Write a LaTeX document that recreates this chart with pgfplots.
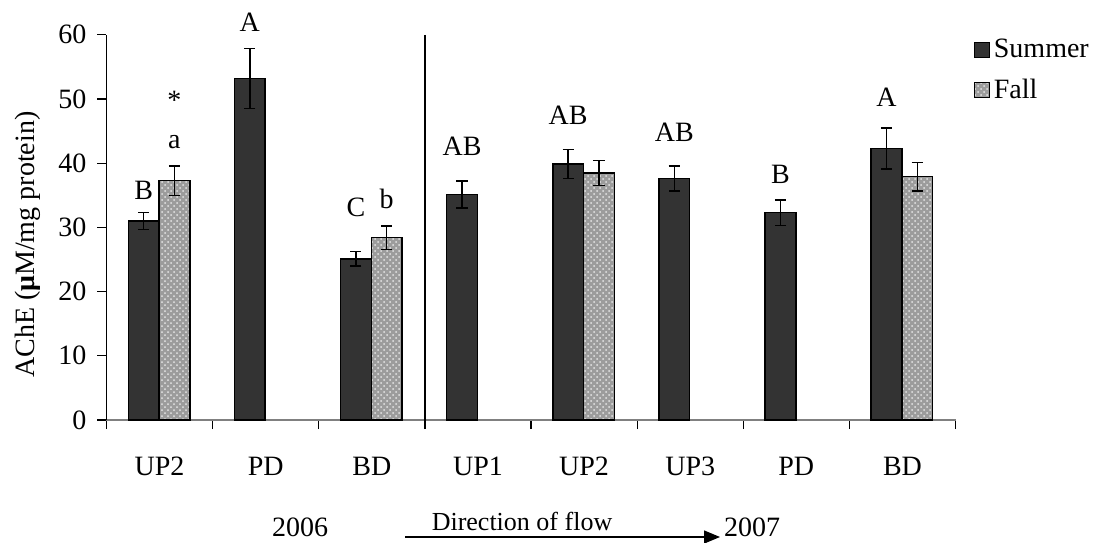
\documentclass[border=0pt]{standalone}
\usepackage{fontspec}
\setmainfont{Liberation Serif}
\usepackage{pgfplots}
\usepackage{pgfplotstable}
\pgfplotsset{compat=1.18}
\usetikzlibrary{patterns,arrows.meta}

\definecolor{summer}{HTML}{333333}
\definecolor{fall}{HTML}{9C9C9C}

\pgfplotstableread{
x y e
0 31.0 1.35
1 53.2 4.7
2 25.1 1.15
3 35.1 2.1
4 39.9 2.25
5 37.6 1.95
6 32.3 2.0
7 42.3 3.2
}\summertab

\pgfplotstableread{
x y e
0 37.3 2.3
2 28.4 1.85
4 38.5 1.95
7 37.9 2.2
}\falltab

\begin{document}
\begin{tikzpicture}[font=\fontsize{14}{16.8}\selectfont]
\useasboundingbox (-53.25pt,-61pt) rectangle (494.75pt,210pt);
\begin{axis}[
  scale only axis, width=424.5pt, height=192.6pt,
  xmin=-0.5, xmax=7.5, ymin=0, ymax=60,
  clip=false,
  axis lines*=left,
  x axis line style={draw=gray, line width=0.6pt},
  y axis line style={draw=black, line width=0.6pt},
  tick style={black, line width=0.6pt},
  tick align=outside,
  major tick length=4.5pt,
  ytick={0,10,...,60},
  /pgf/number format/assume math mode=true,
  yticklabel style={font=\fontsize{14}{16.8}\selectfont, xshift=-2pt},
  xtick={-0.5,0.5,1.5,2.5,3.5,4.5,5.5,6.5,7.5},
  xticklabels={},
  extra x ticks={0,1,2,3,4,5,6,7},
  extra x tick labels={UP2,PD,BD,UP1,UP2,UP3,PD,BD},
  extra x tick style={major tick length=0pt, xticklabel style={anchor=base, yshift=-27.5pt, font=\fontsize{14}{16.8}\selectfont}},
  ylabel={AChE (\textbf{μ}M/mg protein)},
  ylabel style={at={(axis description cs:-0.0925,0.455)}, anchor=center, rotate=0},
  legend style={at={(1,1)}, anchor=north west, xshift=6pt, yshift=2pt, draw=none, fill=none,
    row sep=5pt, font=\fontsize{14}{16.8}\selectfont, legend cell align=left},
  legend image code/.code={\draw[#1, line width=0.6pt] (0pt,-3.7pt) rectangle (7.4pt,3.7pt);},
]
\addplot[ybar, bar width=0.29, bar shift=0, fill=summer, draw=black, line width=0.75pt,
  error bars/.cd, y dir=both, y explicit,
  error bar style={line width=0.75pt, black},
  error mark options={rotate=90, mark size=2.8pt, line width=0.75pt, black}]
  table[x expr=\thisrow{x}-0.15, y=y, y error=e] {\summertab};
\addlegendentry{Summer}
\addplot[ybar, bar width=0.29, bar shift=0, fill=fall, draw=black, line width=0.75pt,
  postaction={pattern=crosshatch dots, pattern color=white!80!gray},
  error bars/.cd, y dir=both, y explicit,
  error bar style={line width=0.75pt, black},
  error mark options={rotate=90, mark size=2.8pt, line width=0.75pt, black}]
  table[x expr=\thisrow{x}+0.14, y=y, y error=e] {\falltab};
\addlegendentry{Fall}

\draw[black, line width=0.9pt] (axis cs:2.5,60) -- ([yshift=-4.5pt]axis cs:2.5,0);

\node at (axis cs:-0.15,35.8) {B};
\node at (axis cs:0.14,43.3) {a};
\node at (axis cs:0.14,49.8) {*};
\node at (axis cs:0.85,62.0) {A};
\node at (axis cs:1.85,33.1) {C};
\node at (axis cs:2.14,34.5) {b};
\node at (axis cs:2.85,42.7) {AB};
\node at (axis cs:3.85,47.5) {AB};
\node at (axis cs:4.85,44.8) {AB};
\node at (axis cs:5.85,38.2) {B};
\node at (axis cs:6.85,50.3) {A};
\end{axis}
\node at (96.75pt,-53.5pt) {2006};
\node[font=\fontsize{13}{15}\selectfont] at (207.75pt,-50.5pt) {Direction of flow};
\draw[-{Triangle[length=8pt,width=6.5pt]}, line width=0.7pt] (149.25pt,-58.5pt) -- (306.75pt,-58.5pt);
\node at (322.75pt,-53.5pt) {2007};
\end{tikzpicture}
\end{document}
